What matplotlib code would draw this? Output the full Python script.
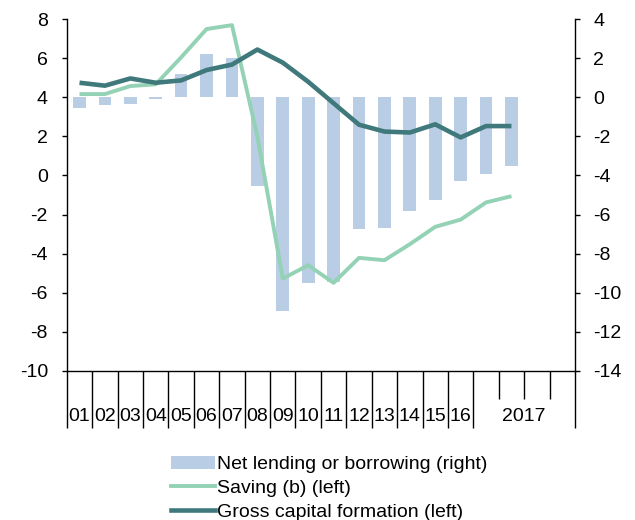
import matplotlib
matplotlib.use("Agg")
import matplotlib.pyplot as plt
from matplotlib.patches import Patch
from matplotlib.lines import Line2D

plt.rcParams['font.family'] = ['Liberation Sans', 'DejaVu Sans']
plt.rcParams['font.size'] = 14
plt.rcParams['axes.unicode_minus'] = False

# ---- data ----
year_labels = ['01', '02', '03', '04', '05', '06', '07', '08', '09', '10',
               '11', '12', '13', '14', '15', '16']
group_label = '2017'
n_slots = 20          # 16 years + 4 quarters of 2017
net_lending = [-0.55, -0.4, -0.33, -0.1, 1.2, 2.2, 2.0, -4.55, -10.95, -9.5,
               -9.45, -6.75, -6.7, -5.8, -5.25, -4.3, -3.9, -3.5]
saving = [4.17, 4.17, 4.58, 4.67, 6.05, 7.5, 7.7, 2.0, -5.28, -4.6,
          -5.5, -4.22, -4.34, -3.52, -2.63, -2.26, -1.38, -1.06]
gcf = [4.75, 4.6, 4.97, 4.75, 4.87, 5.4, 5.68, 6.45, 5.78, 4.8,
       3.7, 2.6, 2.25, 2.2, 2.62, 1.95, 2.53, 2.53]
left_ticks = [-10, -8, -6, -4, -2, 0, 2, 4, 6, 8]
right_ticks = [-14, -12, -10, -8, -6, -4, -2, 0, 2, 4]

c_bar = '#B9CDE5'
c_sav = '#93D2B4'
c_gcf = '#40797C'

fig = plt.figure(figsize=(6.35, 5.2), dpi=100)
ax = fig.add_axes([0.1052, 0.2871, 0.8003, 0.6758])
axr = ax.twinx()

x = list(range(len(net_lending)))
axr.bar(x, net_lending, width=0.5, color=c_bar, zorder=1)
axr.set_ylim(right_ticks[0], right_ticks[-1])
axr.set_yticks(right_ticks)

ax.set_zorder(axr.get_zorder() + 1)
ax.patch.set_visible(False)
ax.plot(x, saving, color=c_sav, lw=2.8, solid_joinstyle='round', solid_capstyle='butt')
ax.plot(x, gcf, color=c_gcf, lw=3.3, solid_joinstyle='round', solid_capstyle='butt')
ax.set_ylim(left_ticks[0], left_ticks[-1])
ax.set_yticks(left_ticks)
ax.set_xlim(-0.5, n_slots - 0.5)

# category boundary ticks
long_b = [i - 0.5 for i in range(len(year_labels) + 1)] + [n_slots - 0.5]
short_b = [i - 0.5 for i in range(len(year_labels) + 1, n_slots)]
ax.set_xticks(long_b)
ax.set_xticklabels([])
ax.set_xticks(short_b, minor=True)
ax.tick_params(axis='x', which='major', length=41, width=1.0, direction='out')
ax.tick_params(axis='x', which='minor', length=20, width=1.0, direction='out')

# labels between ticks
sec = ax.secondary_xaxis('bottom')
lab_pos = list(range(len(year_labels))) + [(len(year_labels) + n_slots - 1) / 2]
sec.set_xticks(lab_pos)
sec.set_xticklabels(year_labels + [group_label])
sec.tick_params(length=0, pad=27, labelsize=14)
sec.spines['bottom'].set_visible(False)

for a in (ax, axr):
    a.spines['top'].set_visible(False)
    for s in a.spines.values():
        s.set_linewidth(1.0)
ax.spines['right'].set_visible(False)
axr.spines['left'].set_visible(False)
axr.spines['bottom'].set_visible(False)
ax.tick_params(axis='y', length=3.6, width=1.0, pad=10, labelsize=14)
axr.tick_params(axis='y', length=3.6, width=1.0, pad=9.5, labelsize=14)

handles = [Patch(facecolor=c_bar, edgecolor='none'),
           Line2D([], [], color=c_sav, lw=2.8),
           Line2D([], [], color=c_gcf, lw=3.3)]
labels = ['Net lending or borrowing (right)', 'Saving (b) (left)',
          'Gross capital formation (left)']
fig.legend(handles, labels, loc='upper left', bbox_to_anchor=(0.2688, 0.1236),
           frameon=False, borderpad=0, borderaxespad=0, handlelength=2.26,
           handletextpad=0.1, labelspacing=0.31, fontsize=14)

fig.savefig('out.png', dpi=100)
